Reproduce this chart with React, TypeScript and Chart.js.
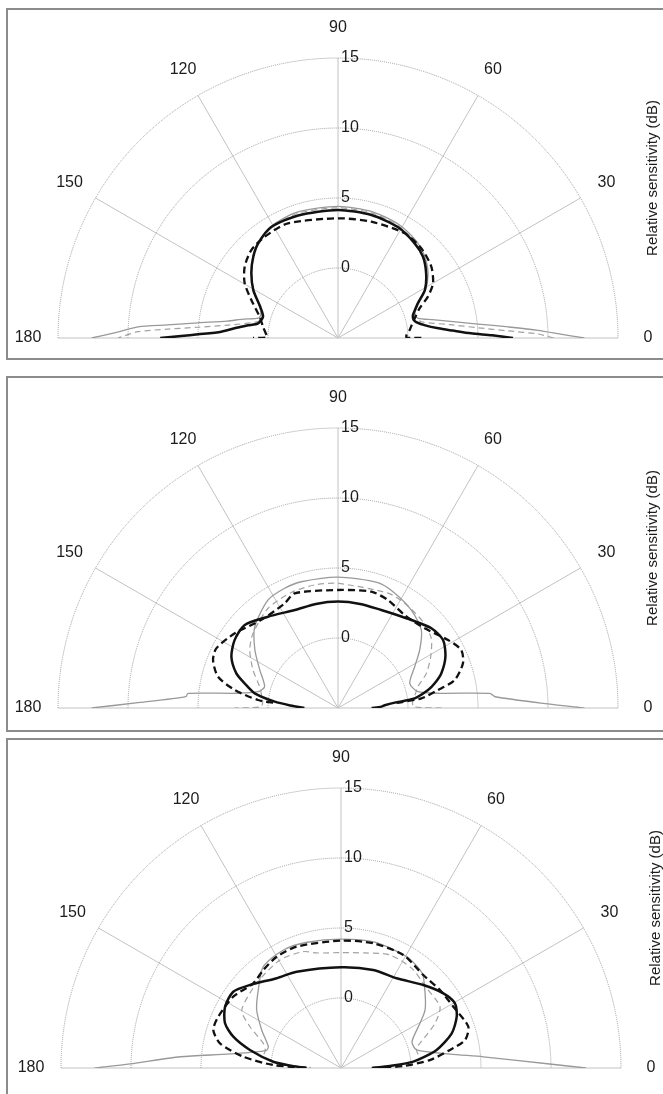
import React, { useEffect, useRef } from "react";
import { Chart, registerables } from "chart.js";

Chart.register(...registerables);

type Pt = [number, number]; // [angle in degrees, relative sensitivity in dB]

const ANGLE_TICKS = [0, 30, 60, 90, 120, 150, 180];
const RING_TICKS = [0, 5, 10, 15];
const R_MIN = -5;
const R_MAX = 15;
const AXIS_TITLE = "Relative sensitivity (dB)";

// ---------- Panel 1 ----------
const P1_BLACK_SOLID: Pt[] = [[0,7.5],[1,6.0],[2,4.5],[3.7,3.2],[5.5,2.2],[8.2,1.3],[11.5,0.7],[14,0.55],[17,0.6],[20,0.85],[23.4,1.2],[29,2.1],[36.2,2.8],[43.7,3.4],[51,3.7],[61.7,4.0],[74.8,4.1],[90,4.15],[108,4.2],[121,4.25],[130,3.85],[136,3.4],[143,2.75],[150.5,1.95],[158,1.0],[164,0.57],[169.6,0.8],[172,1.5],[174,2.2],[176.9,3.35],[178.5,5.0],[179.3,6.2],[180,7.7]];
const P1_BLACK_DASH: Pt[] = [[0,0.95],[0.4,-0.1],[2.5,-0.1],[6.4,0.15],[10,0.35],[14.4,0.66],[20,1.2],[24.7,2.07],[29.9,2.83],[37.4,3.39],[47,3.74],[57.5,3.87],[74,3.64],[90,3.55],[113.6,3.94],[126,3.93],[134.6,3.82],[142.6,3.39],[149.6,2.73],[156.3,1.76],[164.8,0.8],[171.4,0.42],[177.6,0.12],[179.6,0.1],[180,1.07]];
const P1_GRAY_SOLID: Pt[] = [[0,12.6],[1,10.9],[2.2,9.3],[3.7,7.2],[5.7,5.05],[8.7,2.95],[11,1.85],[13.8,0.9],[17,0.7],[23,1.25],[29,2.15],[36,2.95],[44,3.55],[51,3.9],[62,4.2],[75,4.35],[90,4.4],[108,4.45],[121,4.3],[130,3.9],[136,3.45],[143,2.75],[150.5,1.95],[158,1.05],[163,0.75],[166,0.87],[168.7,1.9],[171.3,3.0],[173.8,5.06],[175.6,7.2],[176.8,9.3],[178.6,10.9],[180,12.6]];
const P1_GRAY_DASH: Pt[] = [[0,10.4],[1.15,9.3],[2.4,7.15],[4.2,5.0],[6.8,3.05],[11,1.07],[15,0.7],[20,0.9],[23,1.2],[29,2.1],[36,2.9],[44,3.5],[51,3.8],[62,4.1],[75,4.25],[90,4.3],[108,4.35],[121,4.2],[130,3.85],[136,3.4],[143,2.75],[150.5,1.95],[158,1.0],[165,0.7],[168.5,0.85],[173.3,2.9],[175.6,5.03],[177,7.16],[178.2,9.3],[180,10.7]];

// ---------- Panel 2 ----------
const P2_BLACK_SOLID: Pt[] = [[0,-2.6],[1.8,-1.9],[3.3,-1.66],[5.4,-0.93],[7.2,0.52],[11.3,1.56],[14.3,2.13],[18.6,2.79],[25.5,3.5],[32.9,3.94],[40.5,3.77],[50.2,3.18],[58,2.85],[66.2,2.65],[78,2.6],[90,2.6],[102,2.6],[113.8,2.65],[127.5,3.22],[138.3,3.92],[146.6,3.84],[154.3,3.45],[161.2,2.67],[165.2,1.9],[170,1.04],[174.3,-0.46],[177,-1.6],[180,-2.6]];
const P2_BLACK_DASH: Pt[] = [[5,-0.8],[6.6,1.0],[10.2,2.26],[13.5,3.57],[19.7,4.48],[25.2,4.73],[31.7,4.24],[42.6,3.41],[54.4,3.17],[65.2,3.5],[74,3.64],[90,3.43],[110.7,3.76],[117,3.39],[131,3.34],[144.1,4.1],[153.9,4.68],[159,4.56],[165.4,3.86],[170.1,2.49],[174.3,0.74],[175.5,-0.5]];
const P2_GRAY_SOLID: Pt[] = [[0,12.6],[1.1,10.0],[4.1,6.24],[5.5,5.9],[8.2,2.36],[11.5,0.83],[19,0.42],[28.3,1.22],[35.4,2.16],[43.1,3.15],[53.2,3.74],[64.7,4.19],[72.4,4.4],[90,4.35],[106.2,4.39],[114,4.36],[123,4.19],[135.7,3.31],[145,2.25],[154,1.22],[163.8,0.46],[168.5,0.83],[171.7,2.3],[174.4,5.76],[175.7,5.9],[178.4,9.15],[180,12.6]];
const P2_GRAY_DASH: Pt[] = [[0,2.4],[1,0.4],[5,0.35],[10,0.6],[15,0.91],[21.4,1.78],[29,2.57],[36.8,3.32],[45.4,3.65],[57.5,3.87],[66.4,3.95],[90,3.9],[100.6,3.95],[112,3.9],[125,3.7],[138.7,3.08],[146.7,2.54],[155.9,1.65],[164.8,0.8],[170,0.55],[175,0.4],[179,0.5],[180,2.4]];

// ---------- Panel 3 ----------
const P3_BLACK_SOLID: Pt[] = [[0,-2.8],[2.3,-1.5],[5,0.19],[10.7,1.95],[17.4,3.29],[23.9,4.04],[29.6,4.36],[36.1,4.05],[45.2,3.35],[58.2,2.54],[71.8,2.37],[90,2.19],[114.7,2.57],[125.6,2.89],[137.6,3.8],[144.7,4.43],[152.1,4.37],[158.9,3.88],[163.8,3.01],[168.8,1.63],[174.7,-0.14],[177.5,-1.5],[180,-2.55]];
const P3_BLACK_DASH: Pt[] = [[0,-2.7],[1.8,-0.55],[5.1,1.38],[9.4,2.89],[12.7,4.08],[18,4.56],[28.6,4.14],[38.2,4.0],[48.5,3.87],[61.1,4.22],[75.5,4.2],[90,4.1],[110,4.23],[120,4.18],[128.4,3.93],[136,3.71],[146.5,4.23],[157.3,4.5],[163.4,4.52],[168.5,3.82],[173.4,2.02],[177.5,-0.16],[180,-2.8]];
const P3_GRAY_SOLID: Pt[] = [[0,12.5],[1.1,9.9],[4.5,5.2],[7.3,2.85],[13.4,0.56],[20.3,0.41],[29.5,1.48],[34.6,2.29],[41.6,3.03],[49.4,3.91],[59.4,4.23],[75,4.3],[90,4.2],[105,4.3],[116,4.38],[127.5,4.12],[136.7,3.12],[145.5,2.31],[154.4,1.28],[163.7,0.41],[167,0.5],[172.8,3.0],[176,6.5],[178.9,10.07],[180,12.6]];
const P3_GRAY_DASH: Pt[] = [[10,0.6],[14.7,0.54],[17.4,0.91],[25.4,2.43],[31.8,3.32],[42.9,3.36],[54.6,3.73],[66.6,3.8],[78,3.4],[90,3.24],[102,3.4],[108,3.74],[119.5,3.86],[134.9,3.54],[149.7,3.21],[155.6,2.14],[162.4,0.82],[167,0.55],[170,0.6]];

const PANELS = [
  { cx: 338, cy: 338, frameTop: 8, frameHeight: 352, series: [P1_BLACK_SOLID, P1_BLACK_DASH, P1_GRAY_SOLID, P1_GRAY_DASH] },
  { cx: 338, cy: 708, frameTop: 376, frameHeight: 356, series: [P2_BLACK_SOLID, P2_BLACK_DASH, P2_GRAY_SOLID, P2_GRAY_DASH] },
  { cx: 341, cy: 1068, frameTop: 738, frameHeight: 362, series: [P3_BLACK_SOLID, P3_BLACK_DASH, P3_GRAY_SOLID, P3_GRAY_DASH] },
];

const PAGE_W = 663;
const PAGE_H = 1094;
const RADIUS_PX = 280;
const CANVAS_H = 360;
const FONT = "16px 'Liberation Sans', Arial, sans-serif";
const TITLE_FONT = "15px 'Liberation Sans', Arial, sans-serif";

function toXY(series: Pt[]) {
  return series.map(([a, db]) => {
    const r = db - R_MIN;
    const t = (a * Math.PI) / 180;
    return { x: r * Math.cos(t), y: r * Math.sin(t) };
  });
}

const polarGrid = {
  id: "polarGrid",
  beforeDatasetsDraw(chart: any) {
    const { ctx } = chart;
    const xs = chart.scales.x;
    const ys = chart.scales.y;
    const cx = xs.getPixelForValue(0);
    const cy = ys.getPixelForValue(0);
    const rad = (v: number) => xs.getPixelForValue(v - R_MIN) - cx;
    const outer = rad(R_MAX);
    ctx.save();
    ctx.lineWidth = 1;
    ctx.strokeStyle = "#c2c2c2";
    for (const a of ANGLE_TICKS) {
      const t = (a * Math.PI) / 180;
      ctx.beginPath();
      ctx.moveTo(cx, cy);
      ctx.lineTo(cx + outer * Math.cos(t), cy - outer * Math.sin(t));
      ctx.stroke();
    }
    ctx.strokeStyle = "#9c9c9c";
    ctx.setLineDash([1, 1]);
    for (const v of RING_TICKS) {
      ctx.beginPath();
      ctx.arc(cx, cy, rad(v), Math.PI, 2 * Math.PI);
      ctx.stroke();
    }
    ctx.setLineDash([]);
    ctx.fillStyle = "#1c1c1c";
    ctx.font = FONT;
    ctx.textAlign = "left";
    ctx.textBaseline = "middle";
    for (const v of RING_TICKS) {
      ctx.fillText(String(v), cx + 3, cy - rad(v));
    }
    ctx.textAlign = "center";
    for (const a of ANGLE_TICKS) {
      const t = (a * Math.PI) / 180;
      const R = outer + 30;
      ctx.fillText(String(a), cx + R * Math.cos(t), cy - R * Math.sin(t));
    }
    ctx.font = TITLE_FONT;
    ctx.translate(cx + 315, cy - 160);
    ctx.rotate(-Math.PI / 2);
    ctx.fillText(AXIS_TITLE, 0, 0);
    ctx.restore();
  },
};

function PolarPanel({ cx, cy, series }: { cx: number; cy: number; series: Pt[][] }) {
  const ref = useRef<HTMLCanvasElement>(null);
  useEffect(() => {
    const styles = [
      { borderColor: "#111", borderWidth: 2.5, borderDash: [] as number[] },
      { borderColor: "#111", borderWidth: 2.3, borderDash: [7, 4] },
      { borderColor: "#999", borderWidth: 1.3, borderDash: [] as number[] },
      { borderColor: "#a2a2a2", borderWidth: 1.2, borderDash: [6, 4] },
    ];
    const chart = new Chart(ref.current as HTMLCanvasElement, {
      type: "scatter",
      data: {
        datasets: series.map((s, i) => ({
          data: toXY(s),
          showLine: true,
          pointRadius: 0,
          tension: 0.25,
          fill: false,
          ...styles[i],
        })),
      },
      options: {
        animation: false,
        responsive: false,
        devicePixelRatio: 1,
        events: [],
        layout: {
          padding: {
            left: cx - RADIUS_PX,
            right: PAGE_W - cx - RADIUS_PX,
            top: 330 - RADIUS_PX,
            bottom: CANVAS_H - 330,
          },
        },
        scales: {
          x: { type: "linear", min: -(R_MAX - R_MIN), max: R_MAX - R_MIN, display: false },
          y: { type: "linear", min: 0, max: R_MAX - R_MIN, display: false },
        },
        plugins: { legend: { display: false }, tooltip: { enabled: false }, title: { display: false } },
        elements: { line: { capBezierPoints: false } },
      } as any,
      plugins: [polarGrid],
    });
    return () => chart.destroy();
  }, []);
  return (
    <canvas
      ref={ref}
      width={PAGE_W}
      height={CANVAS_H}
      style={{ position: "absolute", left: 0, top: cy - 330, width: PAGE_W, height: CANVAS_H }}
    />
  );
}

export default function App() {
  return (
    <div style={{ position: "absolute", left: 0, top: 0, width: PAGE_W, height: PAGE_H, overflow: "hidden", background: "#fff" }}>
      {PANELS.map((p, i) => (
        <div
          key={"f" + i}
          style={{
            position: "absolute",
            left: 6,
            top: p.frameTop,
            width: 670,
            height: p.frameHeight,
            border: "2px solid #8c8c8c",
            boxSizing: "border-box",
          }}
        />
      ))}
      {PANELS.map((p, i) => (
        <PolarPanel key={"c" + i} cx={p.cx} cy={p.cy} series={p.series} />
      ))}
    </div>
  );
}
